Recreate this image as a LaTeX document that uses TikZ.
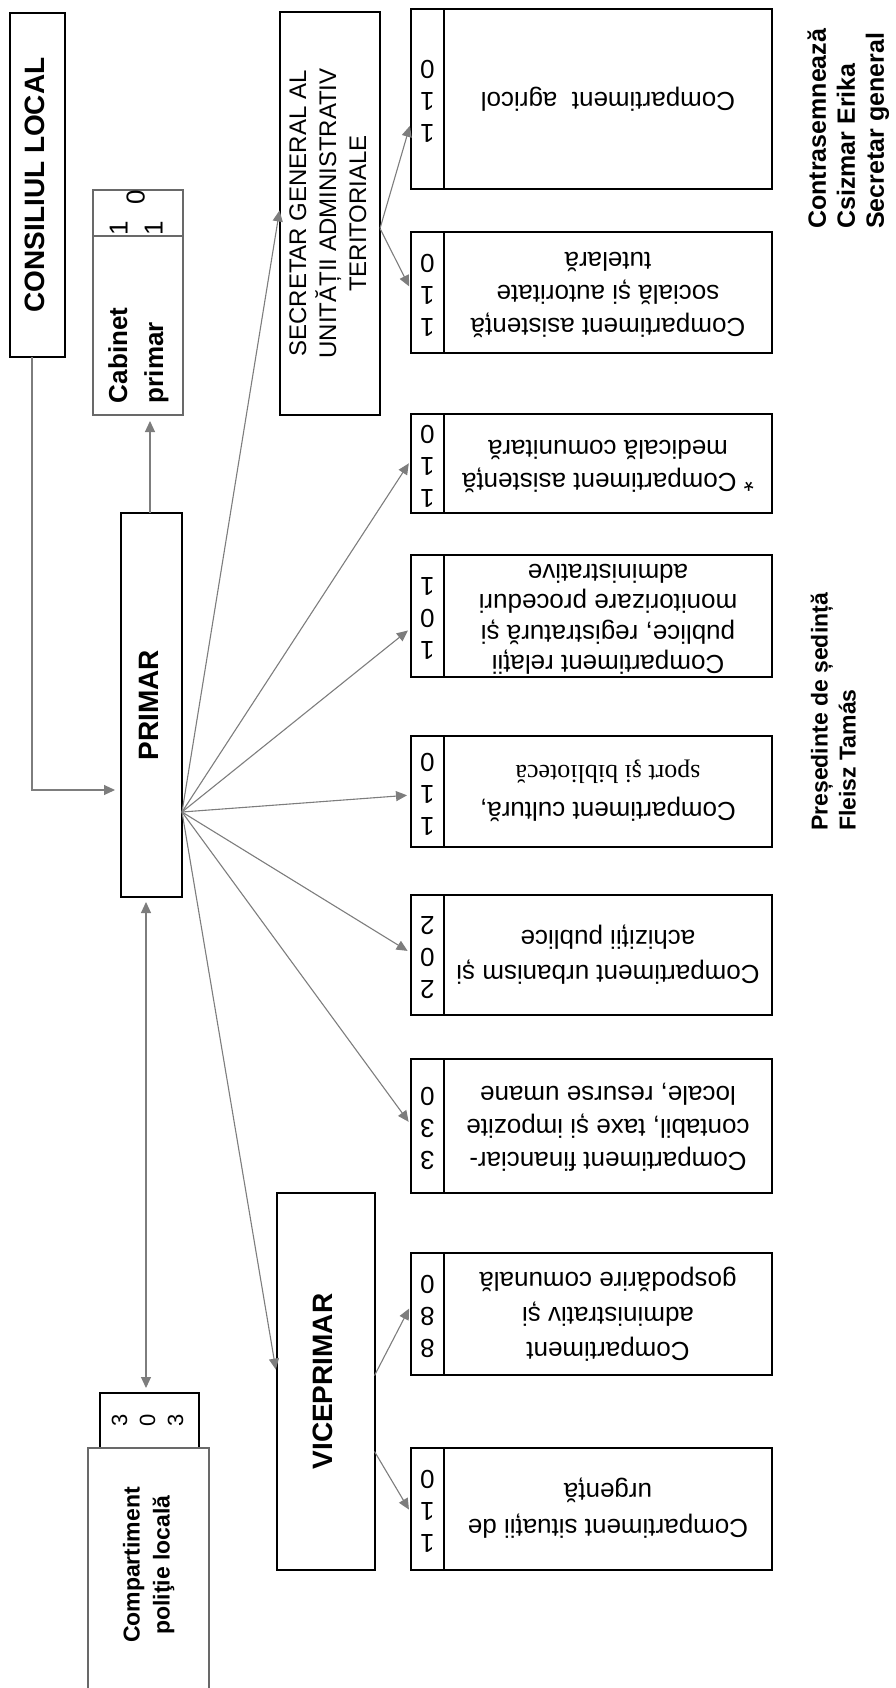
\documentclass[tikz,border=0pt]{standalone}
\usepackage{fontspec}
\setmainfont{Liberation Sans}
\newfontfamily\serifff{Liberation Serif}
\usetikzlibrary{arrows.meta}
\definecolor{linegray}{RGB}{125,125,125}
\definecolor{boxgray}{RGB}{105,105,105}
% rotated 90 (reads bottom to top), centred lines
\newcommand{\ccwc}[4]{\rotatebox{90}{\fontsize{#1}{#2}\selectfont#3\begin{tabular}{@{}c@{}}#4\end{tabular}}}
% rotated 180, centred lines
\newcommand{\updn}[2]{\rotatebox{180}{\fontsize{26}{#1}\selectfont\begin{tabular}{@{}c@{}}#2\end{tabular}}}
% digit column, rotated 180
\newcommand{\dg}[1]{\rotatebox{180}{\fontsize{26}{32}\selectfont\begin{tabular}{@{}c@{}}#1\end{tabular}}}
\begin{document}
\begin{tikzpicture}[x=1pt,y=-1pt,
  box/.style={draw, line width=2pt, rectangle, inner sep=0pt, outer sep=0pt},
  gbox/.style={draw=boxgray, line width=1.2pt, rectangle, inner sep=0pt, outer sep=0pt},
  conn/.style={draw=linegray, line width=1.1pt, -{Triangle[length=11pt,width=10pt]}, shorten >=4pt},
  dconn/.style={draw=linegray, line width=1.1pt, {Triangle[length=11pt,width=10pt]}-{Triangle[length=11pt,width=10pt]}, shorten >=5pt, shorten <=5pt}
]
\useasboundingbox (0,0) rectangle (896,1688);
\clip (0,0) rectangle (896,1688);

% left column
\node[box, minimum width=55pt, minimum height=344pt] (cl) at (37.5,185) {\ccwc{28}{34}{\bfseries}{CONSILIUL LOCAL}};
\node[gbox, minimum width=90pt, minimum height=46pt] (cabd) at (138,213)
  {\rotatebox{90}{\fontsize{26}{35}\selectfont\begin{tabular}{@{}l@{\hspace{17pt}}l@{}}1&\raisebox{-17pt}[0pt][0pt]{0}\\1&\end{tabular}}};
\node[gbox, minimum width=90pt, minimum height=179pt] (cab) at (138,325.5)
  {\rotatebox{90}{\fontsize{26}{36}\selectfont\bfseries\begin{tabular}{@{\hspace{5pt}}p{160pt}@{}}Cabinet\\primar\end{tabular}}};
\node[box, minimum width=61pt, minimum height=384pt] (primar) at (151.5,705) {\ccwc{28}{34}{\bfseries}{PRIMAR}};
\node[box, minimum width=99pt, minimum height=55pt] (pd) at (149.5,1420.5) {\ccwc{22}{28}{}{3\\0\\3}};
\node[gbox, minimum width=121pt, minimum height=280pt] (pt) at (148.5,1588)
  {\rotatebox{90}{\fontsize{23}{30}\selectfont\bfseries\begin{tabular}{@{\hspace{46pt}}c@{}}Compartiment\\poliţie locală\end{tabular}}};

% middle column
\node[box, minimum width=100pt, minimum height=403pt] (sec) at (330,213.5)
  {\ccwc{24}{30}{}{SECRETAR GENERAL AL\\UNITĂȚII ADMINISTRATIV\\TERITORIALE}};
\node[box, minimum width=98pt, minimum height=377pt] (vice) at (325.5,1381.5) {\ccwc{28}{34}{\bfseries}{VICEPRIMAR}};

% compartments
\node[box, minimum width=33pt, minimum height=180pt] (d1) at (427.5,99) {\dg{1\\1\\0}};
\node[box, minimum width=328pt, minimum height=180pt] (c1) at (608,99) {\updn{33}{Compartiment~ agricol}};
\node[box, minimum width=33pt, minimum height=121pt] (d2) at (427.5,292.5) {\dg{1\\1\\0}};
\node[box, minimum width=328pt, minimum height=121pt] (c2) at (608,292.5) {\updn{33}{Compartiment asistență\\socială și autoritate\\tutelară}};
\node[box, minimum width=33pt, minimum height=99pt] (d3) at (427.5,463.5) {\dg{1\\1\\0}};
\node[box, minimum width=328pt, minimum height=99pt] (c3) at (608,463.5) {\updn{33}{* Compartiment asistență\\medicală comunitară}};
\node[box, minimum width=33pt, minimum height=122pt] (d4) at (427.5,616) {\dg{1\\0\\1}};
\node[box, minimum width=328pt, minimum height=122pt] (c4) at (608,616) {\updn{30.5}{Compartiment relații\\publice, registratură și\\monitorizare proceduri\\administrative}};
\node[box, minimum width=33pt, minimum height=111pt] (d5) at (427.5,791.5) {\dg{1\\1\\0}};
\node[box, minimum width=328pt, minimum height=111pt] (c5) at (608,791.5) {\updn{37}{Compartiment cultură,\\{\serifff sport şi bibliotecă}}};
\node[box, minimum width=33pt, minimum height=120pt] (d6) at (427.5,955) {\dg{2\\0\\2}};
\node[box, minimum width=328pt, minimum height=120pt] (c6) at (608,955) {\updn{35}{Compartiment urbanism și\\achiziții publice}};
\node[box, minimum width=33pt, minimum height=134pt] (d7) at (427.5,1126) {\dg{3\\3\\0}};
\node[box, minimum width=328pt, minimum height=134pt] (c7) at (608,1126) {\updn{33}{Compartiment financiar-\\contabil, taxe și impozite\\locale, resurse umane}};
\node[box, minimum width=33pt, minimum height=122pt] (d8) at (427.5,1314) {\dg{8\\8\\0}};
\node[box, minimum width=328pt, minimum height=122pt] (c8) at (608,1314) {\updn{35}{Compartiment\\administrativ și\\gospodărire comunală}};
\node[box, minimum width=33pt, minimum height=122pt] (d9) at (427.5,1509) {\dg{1\\1\\0}};
\node[box, minimum width=328pt, minimum height=122pt] (c9) at (608,1509) {\updn{36}{Compartiment situații de\\urgență}};

% signatures
\node[anchor=south, inner sep=0pt] (sig1) at (849,229)
  {\rotatebox{90}{\fontsize{25}{29}\selectfont\bfseries\begin{tabular}{@{}l@{}}Contrasemnează\\Csizmar Erika\\Secretar general\end{tabular}}};
\node[anchor=south, inner sep=0pt] (sig2) at (836,831)
  {\rotatebox{90}{\fontsize{23}{28}\selectfont\bfseries\begin{tabular}{@{}l@{}}Președinte de ședință\\Fleisz Tamás\end{tabular}}};

% connectors
\draw[conn, shorten >=6pt] ([xshift=-5.5pt]cl.south) |- ([yshift=-85pt]primar.west);
\draw[conn, shorten >=6pt] ([xshift=-1.5pt]primar.north) -- ([xshift=-1.5pt]primar.north |- cab.south);
\draw[dconn] ([xshift=-5.5pt]primar.south) -- ([xshift=-5.5pt]primar.south |- pd.north);

\coordinate (fan) at ([yshift=-107pt]primar.east);
\draw[conn, shorten >=3pt] (fan) -- ([yshift=6pt]sec.west);
\draw[conn] (fan) -- ([yshift=3.5pt]d3.west);
\draw[conn] (fan) -- ([yshift=-12pt]d4.west);
\draw[conn] (fan) -- ([yshift=-3.5pt]d5.west);
\draw[conn] (fan) -- ([yshift=2pt]d6.west);
\draw[conn] (fan) -- ([yshift=1pt]d7.west);
\draw[conn] (fan) -- ([yshift=8pt]vice.west);

\draw[conn] ([yshift=-15pt]sec.east) -- ([yshift=-23pt]d1.west);
\draw[conn] ([yshift=-15pt]sec.east) -- ([yshift=2.5pt]d2.west);
\draw[conn] ([yshift=6pt]vice.east) -- ([yshift=9pt]d8.west);
\draw[conn] ([yshift=-70pt]vice.east) -- ([yshift=-4pt]d9.west);
\end{tikzpicture}
\end{document}
